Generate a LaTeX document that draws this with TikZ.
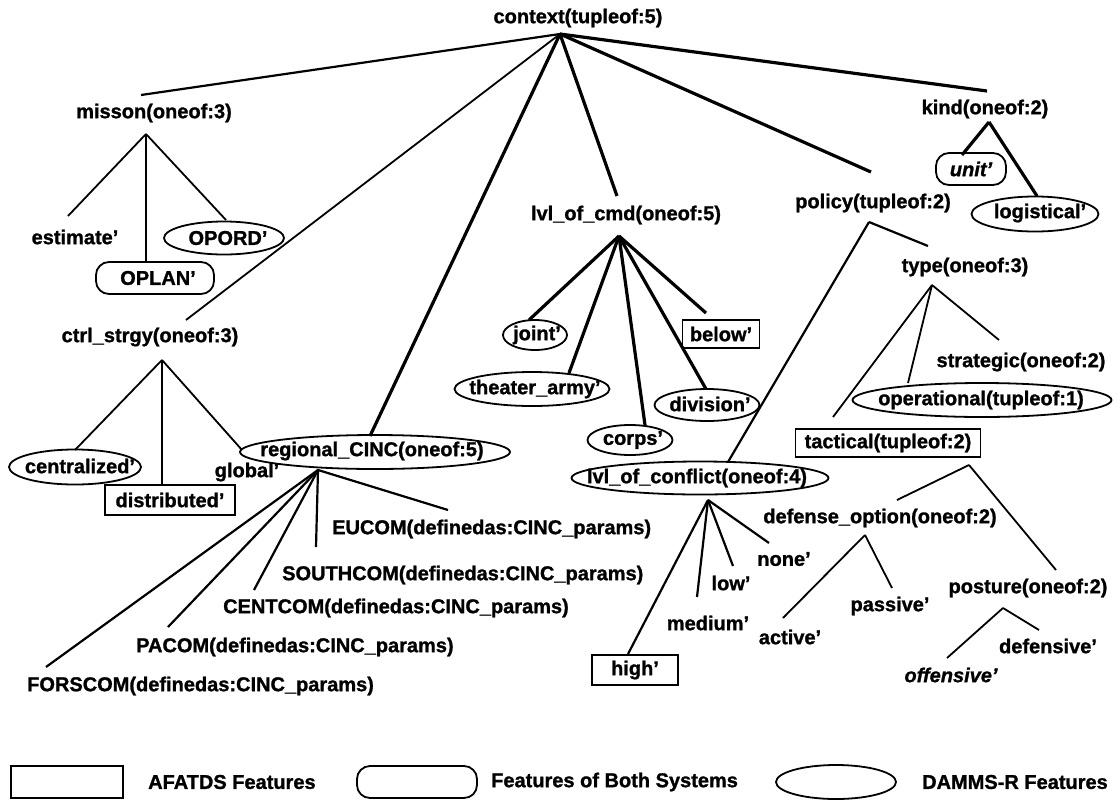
\documentclass[tikz,border=0pt]{standalone}
\usepackage{fontspec}
\setmainfont{Liberation Sans}
\newfontface\hvbf{Liberation Sans Bold}[FakeBold=1.2, Ligatures=TeX]
\newfontface\hvbfit{Liberation Sans Bold Italic}[FakeBold=1.2, Ligatures=TeX]
\usetikzlibrary{shapes.geometric}
\newcommand\lf{\fontsize{20}{22}\selectfont\hvbf}
\newcommand\lfit{\fontsize{20}{22}\selectfont\hvbfit}
\tikzset{
  lbl/.style={inner sep=0pt, font=\lf},
  dam/.style={draw, line width=1.8pt, ellipse, inner sep=0pt},
  both/.style={draw, line width=1.8pt, rounded corners=13pt, inner sep=0pt},
  afa/.style={draw, line width=1.8pt, inner sep=0pt},
  ethick/.style={line width=3.2pt},
  emid/.style={line width=2.2pt},
  ethin/.style={line width=1.8pt},
  sz/.style 2 args={minimum width=#1pt, minimum height=#2pt}
}
\begin{document}
\begin{tikzpicture}[x=1pt,y=-1pt]
\useasboundingbox (0,0) rectangle (1119,801);
% ---- shapes ----
\node[both, sz={118}{32}] (oplanS) at (155,278) {};
\node[dam, sz={120}{33}] (opordS) at (224,238) {};
\node[both, sz={70}{32}] (unitS) at (971,169) {};
\node[dam, sz={127}{35}] (logiS) at (1035,214) {};
\node[dam, sz={132}{35}] (centS) at (75,467) {};
\node[afa, sz={130}{30}] (distS) at (170,500) {};
\node[dam, sz={64}{30}] (jointS) at (535,335) {};
\node[afa, sz={77}{28}] (belowS) at (721,334) {};
\node[dam, sz={155}{34}] (theaS) at (532,389) {};
\node[dam, sz={105}{32}] (divS) at (707,405) {};
\node[dam, sz={85}{30}] (corpsS) at (630,440) {};
\node[dam, sz={259}{34}] (operS) at (982,400) {};
\node[afa, sz={185}{28}] (tactS) at (888,443) {};
\node[dam, sz={270}{34}] (regS) at (375,452) {};
\node[dam, sz={257}{33}] (confS) at (700,478) {};
\node[afa, sz={86}{30}] (highS) at (635,670) {};
% ---- labels ----
\node[lbl] (ctx) at (578,18) {context(tupleof:5)};
\node[lbl] (mis) at (154,113) {misson(oneof:3)};
\node[lbl] (est) at (75,237) {estimate'};
\node[lbl] (oplan) at (158,278) {OPLAN'};
\node[lbl] (opord) at (228,238) {OPORD'};
\node[lbl] (kind) at (985,109) {kind(oneof:2)};
\node[lbl, font=\lfit] (unit) at (971,169) {unit'};
\node[lbl] (logi) at (1040,213) {logistical'};
\node[lbl] (cmd) at (626,215) {lvl\_of\_cmd(oneof:5)};
\node[lbl] (pol) at (873,203) {policy(tupleof:2)};
\node[lbl] (type) at (965,267) {type(oneof:3)};
\node[lbl] (ctrl) at (150,337) {ctrl\_strgy(oneof:3)};
\node[lbl] (cent) at (80,466) {centralized'};
\node[lbl] (dist) at (170,500) {distributed'};
\node[lbl] (glob) at (247,472) {global'};
\node[lbl] (joint) at (537,335) {joint'};
\node[lbl] (below) at (721,334) {below'};
\node[lbl] (thea) at (535,389) {theater\_army'};
\node[lbl] (div) at (710,404) {division'};
\node[lbl] (corps) at (633,440) {corps'};
\node[lbl] (strat) at (1021,362) {strategic(oneof:2)};
\node[lbl] (oper) at (981,400) {operational(tupleof:1)};
\node[lbl] (tact) at (888,443) {tactical(tupleof:2)};
\node[lbl] (reg) at (372,451) {regional\_CINC(oneof:5)};
\node[lbl] (conf) at (697,478) {lvl\_of\_conflict(oneof:4)};
\node[lbl] (defo) at (880,518) {defense\_option(oneof:2)};
\node[lbl, anchor=west] (eucom) at (332,529) {EUCOM(definedas:CINC\_params)};
\node[lbl, anchor=west] (south) at (282,575) {SOUTHCOM(definedas:CINC\_params)};
\node[lbl, anchor=west] (centc) at (223,608) {CENTCOM(definedas:CINC\_params)};
\node[lbl, anchor=west] (pacom) at (136,647) {PACOM(definedas:CINC\_params)};
\node[lbl, anchor=west] (fors) at (27,686) {FORSCOM(definedas:CINC\_params)};
\node[lbl] (none) at (784,559) {none'};
\node[lbl] (low) at (731,583) {low'};
\node[lbl] (med) at (708,623) {medium'};
\node[lbl] (high) at (635,670) {high'};
\node[lbl] (act) at (790,637) {active'};
\node[lbl] (pas) at (890,606) {passive'};
\node[lbl] (post) at (1028,588) {posture(oneof:2)};
\node[lbl] (defs) at (1048,646) {defensive'};
\node[lbl, font=\lfit] (offs) at (951,675) {offensive'};
% ---- legend ----
\node[afa, sz={112}{32}] (legA) at (67,782) {};
\node[lbl, anchor=west] (legAt) at (148,782) {AFATDS Features};
\node[both, sz={120}{32}] (legB) at (417,782) {};
\node[lbl, anchor=west] (legBt) at (491,782) {Features of Both Systems};
\node[dam, sz={120}{34}] (legD) at (836,782) {};
\node[lbl, anchor=west] (legDt) at (922,782) {DAMMS-R Features};
% ---- hubs ----
\coordinate (hctx) at (560,34);
\coordinate (hmis) at (146,134);
\coordinate (hkind) at (989,122);
\coordinate (hcmd) at (619,236);
\coordinate (hpol) at (869,222);
\coordinate (htype) at (932,285);
\coordinate (hctrl) at (162,360);
\coordinate (hreg) at (318,470);
\coordinate (hconf) at (708,500);
\coordinate (htac) at (969,465);
\coordinate (hdef) at (865,535);
\coordinate (hpos) at (1003,608);
% ---- ends ----
\coordinate (a-mis) at (141,95);
\coordinate (a-ctrl) at (186,320);
\coordinate (a-reg) at (370,436);
\coordinate (a-cmd) at (617,196);
\coordinate (a-pol) at (871,172);
\coordinate (a-kind) at (987,91);
\coordinate (a-est) at (68,216);
\coordinate (a-oplan) at (146,262);
\coordinate (a-opord) at (226,220);
\coordinate (a-unit) at (962,155);
\coordinate (a-logi) at (1037,196);
\coordinate (a-joint) at (529,320);
\coordinate (a-thea) at (569,373);
\coordinate (a-corps) at (645,425);
\coordinate (a-div) at (706,389);
\coordinate (a-below) at (706,313);
\coordinate (a-conf) at (728,462);
\coordinate (a-type) at (928,246);
\coordinate (a-tact) at (833,417);
\coordinate (a-oper) at (908,383);
\coordinate (a-strat) at (999,340);
\coordinate (a-cent) at (75,450);
\coordinate (a-dist) at (162,485);
\coordinate (a-glob) at (242,450);
\coordinate (a-eucom) at (448,510);
\coordinate (a-south) at (316,547);
\coordinate (a-centc) at (254,590);
\coordinate (a-pacom) at (168,627);
\coordinate (a-fors) at (46,667);
\coordinate (a-none) at (769,543);
\coordinate (a-low) at (733,566);
\coordinate (a-med) at (697,597);
\coordinate (a-high) at (628,654);
\coordinate (a-defo) at (897,500);
\coordinate (a-post) at (1056,570);
\coordinate (a-act) at (783,618);
\coordinate (a-pas) at (892,588);
\coordinate (a-offs) at (947,658);
\coordinate (a-defs) at (1039,630);
% ---- connectors ----
\draw[emid] (hctx) -- (a-mis);
\draw[ethin] (hctx) -- (a-ctrl);
\draw[ethick] (hctx) -- (a-reg);
\draw[ethick] (hctx) -- (a-cmd);
\draw[ethick] (hctx) -- (a-pol);
\draw[ethick] (hctx) -- (a-kind);
\draw[ethin] (hmis) -- (a-est);
\draw[ethin] (hmis) -- (a-oplan);
\draw[ethin] (hmis) -- (a-opord);
\draw[ethick] (hkind) -- (a-unit);
\draw[ethick] (hkind) -- (a-logi);
\draw[ethick] (hcmd) -- (a-joint);
\draw[ethick] (hcmd) -- (a-thea);
\draw[ethick] (hcmd) -- (a-corps);
\draw[ethick] (hcmd) -- (a-div);
\draw[ethick] (hcmd) -- (a-below);
\draw[emid] (hpol) -- (a-conf);
\draw[emid] (hpol) -- (a-type);
\draw[ethin] (htype) -- (a-tact);
\draw[ethin] (htype) -- (a-oper);
\draw[ethin] (htype) -- (a-strat);
\draw[ethin] (hctrl) -- (a-cent);
\draw[ethin] (hctrl) -- (a-dist);
\draw[ethin] (hctrl) -- (a-glob);
\draw[emid] (hreg) -- (a-eucom);
\draw[emid] (hreg) -- (a-south);
\draw[emid] (hreg) -- (a-centc);
\draw[emid] (hreg) -- (a-pacom);
\draw[emid] (hreg) -- (a-fors);
\draw[emid] (hconf) -- (a-none);
\draw[emid] (hconf) -- (a-low);
\draw[emid] (hconf) -- (a-med);
\draw[emid] (hconf) -- (a-high);
\draw[ethin] (htac) -- (a-defo);
\draw[ethin] (htac) -- (a-post);
\draw[ethin] (hdef) -- (a-act);
\draw[ethin] (hdef) -- (a-pas);
\draw[ethin] (hpos) -- (a-offs);
\draw[ethin] (hpos) -- (a-defs);
\end{tikzpicture}
\end{document}
